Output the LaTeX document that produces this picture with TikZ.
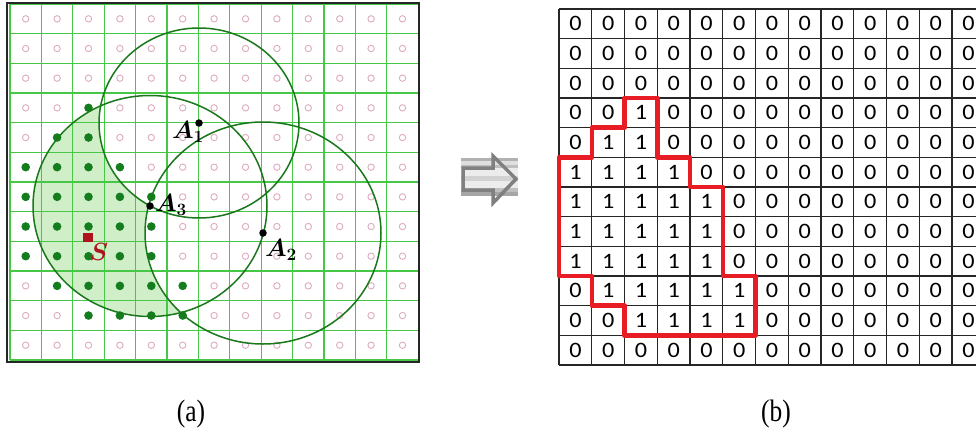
\documentclass[tikz,border=0pt]{standalone}
\usepackage{fontspec}
\setmainfont{Liberation Serif}
\newfontfamily\digitfont{Carlito}
\usepackage{bm}
\definecolor{gridgreen}{RGB}{70,200,70}
\definecolor{pinkc}{RGB}{222,172,192}
\definecolor{dotgreen}{RGB}{20,125,30}
\definecolor{circgreen}{RGB}{25,120,25}
\definecolor{shadegreen}{RGB}{208,238,200}
\definecolor{sred}{RGB}{175,20,30}
\definecolor{outred}{RGB}{232,28,36}
\definecolor{arrgray}{RGB}{128,128,128}
\tikzset{
  gline/.style={draw=gridgreen, line width=1.2pt},
  pinkdot/.style={draw=pinkc, line width=0.9pt},
  gdot/.style={fill=dotgreen},
  circ/.style={draw=circgreen, line width=1.5pt},
  cline/.style={draw=black!85, line width=1.1pt},
  digit/.style={inner sep=0pt, font=\digitfont\fontsize{22}{22}\selectfont},
  alabel/.style={inner sep=0pt, font=\fontsize{24}{24}\selectfont},
  captext/.style={inner sep=0pt, font=\fontsize{31}{31}\selectfont},
  pt/.style={circle, fill=black, inner sep=0pt, minimum size=7.5pt},
}
\begin{document}
\begin{tikzpicture}[x=1pt,y=-1pt]
\useasboundingbox (0,0) rectangle (976,439);
\clip (0,0) rectangle (976,439);
\fill[white] (0,0) rectangle (976,439);
% ---------- panel (a) ----------
\fill[shadegreen] (150,206) ellipse (117 and 110.5);
\fill[white] (199,123) ellipse (100 and 95);
\fill[white] (263,233) ellipse (118 and 111);
\begin{scope}[shift={(10,4)}, x=31.4pt, y=-29.67pt]
  \foreach \i in {0,...,13} \draw[gline] (\i,0) -- (\i,12);
  \foreach \j in {0,...,12} \draw[gline] (0,\j) -- (13,\j);
  \foreach \r/\row in {0/{0,0,0,0,0,0,0,0,0,0,0,0,0},1/{0,0,0,0,0,0,0,0,0,0,0,0,0},2/{0,0,0,0,0,0,0,0,0,0,0,0,0},3/{0,0,1,0,0,0,0,0,0,0,0,0,0},4/{0,1,1,0,0,0,0,0,0,0,0,0,0},5/{1,1,1,1,0,0,0,0,0,0,0,0,0},6/{1,1,1,1,1,0,0,0,0,0,0,0,0},7/{1,1,1,1,1,0,0,0,0,0,0,0,0},8/{1,1,1,1,1,0,0,0,0,0,0,0,0},9/{0,1,1,1,1,1,0,0,0,0,0,0,0},10/{0,0,1,1,1,1,0,0,0,0,0,0,0},11/{0,0,0,0,0,0,0,0,0,0,0,0,0}}{
    \foreach \v [count=\c from 0] in \row {
      \ifnum\v=1
        \fill[gdot] (\c+0.5,\r+0.5) circle (4.3pt);
      \else
        \draw[pinkdot] (\c+0.5,\r+0.5) circle (3.2pt);
      \fi
    }
  }
\end{scope}
\draw[circ] (199,123) ellipse (100 and 95);
\draw[circ] (263,233) ellipse (118 and 111);
\draw[circ] (150,206) ellipse (117 and 110.5);
\draw[black!85, line width=2.5pt] (7,3) rectangle (419,362);
\node[pt] (A1) at (199,123) {};
\node[pt] (A2) at (263,233) {};
\node[pt] (A3) at (150,206) {};
\node[alabel] (lA1) at (188,132) {$\bm{A_1}$};
\node[alabel] (lA2) at (281,250) {$\bm{A_2}$};
\node[alabel] (lA3) at (171,205) {$\bm{A_3}$};
\node[fill=sred, inner sep=0pt, minimum size=9.5pt] (S) at (88,237.5) {};
\node[alabel, text=sred] (lS) at (99,252) {$\bm{S}$};
% ---------- arrow ----------
\fill[gray!60] (461,158) rectangle (518,161);
\fill[gray!25] (461,161) rectangle (518,165);
\fill[gray!50] (461,165) rectangle (518,168);
\fill[gray!15] (461,168) rectangle (518,176);
\fill[gray!35] (461,176) rectangle (518,181);
\fill[gray!15] (461,181) rectangle (518,188);
\fill[gray!50] (461,188) rectangle (518,192);
\fill[gray!70] (461,192) rectangle (518,196);
\draw[arrgray, line width=3.5pt] (463,168) -- (493,168) -- (493,156) -- (516,179) -- (493,203) -- (493,190) -- (463,190) -- cycle;
% ---------- panel (b) ----------
\begin{scope}[shift={(559,9)}, x=32.75pt, y=-29.67pt]
  \foreach \i in {0,...,13} \draw[cline] (\i,0) -- (\i,12);
  \foreach \j in {0,...,12} \draw[cline] (0,\j) -- (13,\j);
  \foreach \r/\row in {0/{0,0,0,0,0,0,0,0,0,0,0,0,0},1/{0,0,0,0,0,0,0,0,0,0,0,0,0},2/{0,0,0,0,0,0,0,0,0,0,0,0,0},3/{0,0,1,0,0,0,0,0,0,0,0,0,0},4/{0,1,1,0,0,0,0,0,0,0,0,0,0},5/{1,1,1,1,0,0,0,0,0,0,0,0,0},6/{1,1,1,1,1,0,0,0,0,0,0,0,0},7/{1,1,1,1,1,0,0,0,0,0,0,0,0},8/{1,1,1,1,1,0,0,0,0,0,0,0,0},9/{0,1,1,1,1,1,0,0,0,0,0,0,0},10/{0,0,1,1,1,1,0,0,0,0,0,0,0},11/{0,0,0,0,0,0,0,0,0,0,0,0,0}}{
    \foreach \v [count=\c from 0] in \row {
      \node[digit] at (\c+0.5,\r+0.5) {\scalebox{1.1}[1]{\v}};
    }
  }
  \draw[outred, line width=4.5pt, line join=round, line cap=round]
    (2,3) -- (3,3) -- (3,5) -- (4,5) -- (4,6) -- (5,6) -- (5,9) -- (6,9) -- (6,11)
    -- (2,11) -- (2,10) -- (1,10) -- (1,9) -- (0,9) -- (0,5) -- (1,5) -- (1,4) -- (2,4) -- cycle;
\end{scope}
% ---------- captions ----------
\node[captext] (capa) at (191,414) {\scalebox{0.82}[1]{(a)}};
\node[captext] (capb) at (776,414) {\scalebox{0.82}[1]{(b)}};
\end{tikzpicture}
\end{document}
